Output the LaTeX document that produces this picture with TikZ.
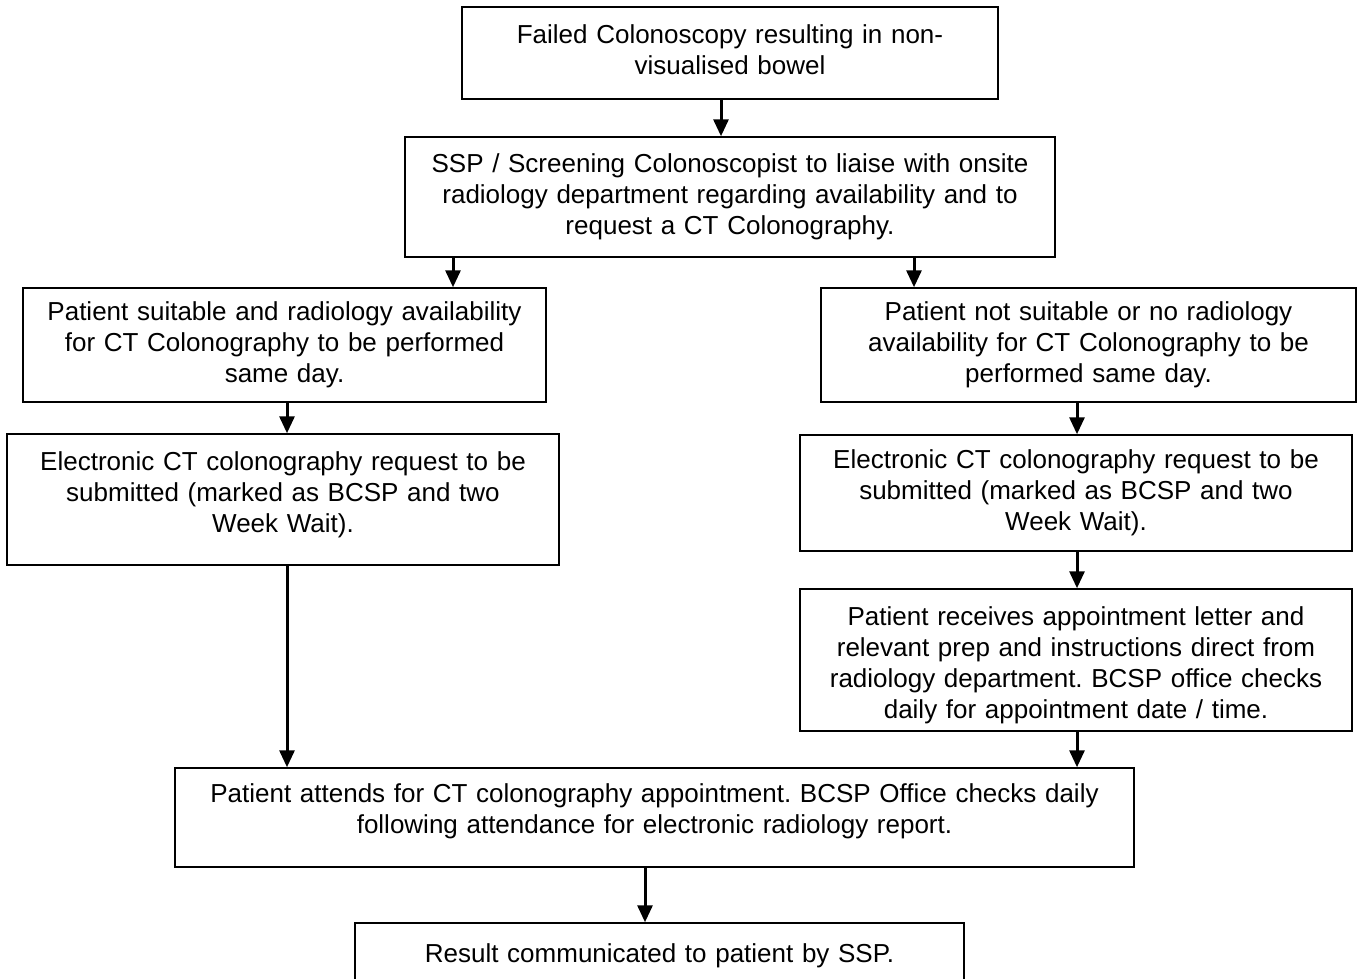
\documentclass[tikz,border=0pt]{standalone}
\usepackage{fontspec}
\setmainfont{Liberation Sans}
\usetikzlibrary{arrows.meta}
\frenchspacing
\newcommand{\tallrule}[1]{\rule{0pt}{#1}}
\newcommand{\deeprule}[1]{\rule[-#1]{0pt}{#1}}

\begin{document}
\begin{tikzpicture}[x=1pt,y=-1pt,
	stepbox/.style={draw,line width=1.5pt,inner sep=0pt,align=center,
		font=\fontsize{26pt}{31pt}\selectfont},
	flow/.style={line width=3pt,-{Triangle[length=17pt,width=15pt]}}]
		\useasboundingbox[fill=white] (0,0) rectangle (1357,978);
		\clip (0,0) rectangle (1357,978);
		\node[stepbox,minimum width=536,text width=536,minimum height=92] (fail) at (730,53)
			{Failed Colonoscopy resulting in non-\\visualised bowel\deeprule{6pt}};
		\node[stepbox,minimum width=650,text width=650,minimum height=120] (req) at (730,197)
			{SSP / Screening Colonoscopist to liaise with onsite\\radiology department regarding availability and to\\request a CT Colonography.};
		\node[stepbox,minimum width=523,text width=523,minimum height=114] (suitL) at (284.5,345)
			{Patient suitable and radiology availability\\for CT Colonography to be performed\\same day.};
		\node[stepbox,minimum width=535,text width=535,minimum height=114] (suitR) at (1088.5,345)
			{Patient not suitable or no radiology\\availability for CT Colonography to be\\performed same day.};
		\node[stepbox,minimum width=552,text width=552,minimum height=131] (elecL) at (283,499.5)
			{Electronic CT colonography request to be\\submitted (marked as BCSP and two\\Week Wait).\deeprule{15pt}};
		\node[stepbox,minimum width=552,text width=552,minimum height=116] (elecR) at (1076,493)
			{Electronic CT colonography request to be\\submitted (marked as BCSP and two\\Week Wait).};
		\node[stepbox,minimum width=552,text width=552,minimum height=142] (recv) at (1076,660)
			{\tallrule{29pt}Patient receives appointment letter and\\relevant prep and instructions direct from\\radiology department. BCSP office checks\\daily for appointment date / time.};
		\node[stepbox,minimum width=959,text width=959,minimum height=99] (attend) at (654.5,817.5)
			{Patient attends for CT colonography appointment. BCSP Office checks daily\\following attendance for electronic radiology report.\deeprule{18pt}};
		\node[stepbox,minimum width=609,text width=609,minimum height=66] (result) at (659.5,956)
			{Result communicated to patient by SSP.};
		\coordinate (cTop) at (721,0);
		\coordinate (cL) at (453,0);
		\coordinate (cR) at (914,0);
		\coordinate (cLL) at (287,0);
		\coordinate (cRR) at (1077,0);
		\coordinate (cBot) at (645,0);
		\draw[flow] (fail.south -| cTop) -- (req.north -| cTop);
		\draw[flow] (req.south -| cL) -- (suitL.north -| cL);
		\draw[flow] (req.south -| cR) -- (suitR.north -| cR);
		\draw[flow] (suitL.south -| cLL) -- (elecL.north -| cLL);
		\draw[flow] (elecL.south -| cLL) -- (attend.north -| cLL);
		\draw[flow] (suitR.south -| cRR) -- (elecR.north -| cRR);
		\draw[flow] (elecR.south -| cRR) -- (recv.north -| cRR);
		\draw[flow] (recv.south -| cRR) -- (attend.north -| cRR);
		\draw[flow] (attend.south -| cBot) -- (result.north -| cBot);
	\end{tikzpicture}
\end{document}
